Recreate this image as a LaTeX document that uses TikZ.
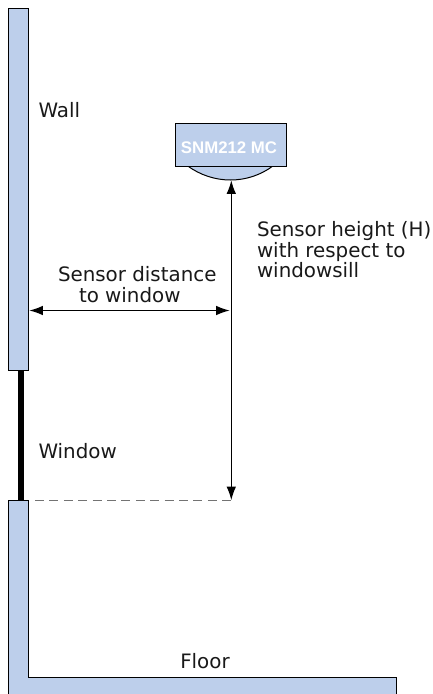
\documentclass[tikz,border=0pt]{standalone}
\usepackage{fontspec}
\setmainfont{DejaVu Sans}
\newfontfamily\sensorfont{Liberation Sans}
\usetikzlibrary{arrows.meta}
\definecolor{wallblue}{HTML}{BDCFEB}
\tikzset{
  wallshape/.style={draw=black,fill=wallblue,line width=1pt},
  label/.style={font=\fontsize{19.85pt}{20.5pt}\selectfont,text=black!90,inner sep=0pt,outer sep=0pt,align=left},
  dimline/.style={draw=black,line width=1.2pt,{Latex[length=13.5pt,width=9.5pt]}-{Latex[length=13.5pt,width=9.5pt]},shorten <=0.3pt,shorten >=0.3pt},
  guide/.style={draw=black!55,line width=1.4pt,dash pattern=on 9pt off 5.4pt},
}
\begin{document}
\begin{tikzpicture}[x=1pt,y=-1pt]
\useasboundingbox (0,0) rectangle (432,694);
% window
\fill[black] (18,370) rectangle (24,500);
% upper wall
\draw[wallshape] (8,8) rectangle (28,370);
% lower wall and floor
\draw[wallshape] (8,700) -- (8,500.5) -- (28,500.5) -- (28,677.5) -- (396,677.5) -- (396,700);
% sensor
\draw[wallshape] (187.3,165.7) .. controls (200,175) and (215,180) .. (230.5,180) .. controls (246,180) and (261,175) .. (273.3,165.7) -- cycle;
\node[wallshape,minimum width=110.5pt,minimum height=42.4pt,inner sep=0pt,anchor=north west] (sensor) at (175,123.3) {};
\node[inner sep=0pt,font=\sensorfont\bfseries\fontsize{16.8pt}{18pt}\selectfont,text=white] (sensortext) at (229,148) {SNM212 MC};
% dimension points
\coordinate (domeb) at (231.3,180);
\coordinate (sill) at (231.3,500.5);
\coordinate (mid) at (230,310.5);
\coordinate (wallp) at (29,310.5);
\coordinate (dashs) at (35,500.5);
\draw[guide] (dashs) -- (sill);
\draw[dimline] (domeb) -- (sill);
\draw[dimline] (wallp) -- (mid);
% labels
\node[label,anchor=west] (lwall) at (38.5,110) {Wall};
\node[label,anchor=west] (lwin) at (38.5,451) {Window};
\node[label,anchor=center] (lfloor) at (205,661) {Floor};
\node[label,anchor=north west] (lh) at (257,221.5) {Sensor height (H)\\with respect to\\windowsill};
\node[label,anchor=north west] (ld) at (58,266.5) {Sensor distance\\\hspace*{21pt}to window};
\end{tikzpicture}
\end{document}
